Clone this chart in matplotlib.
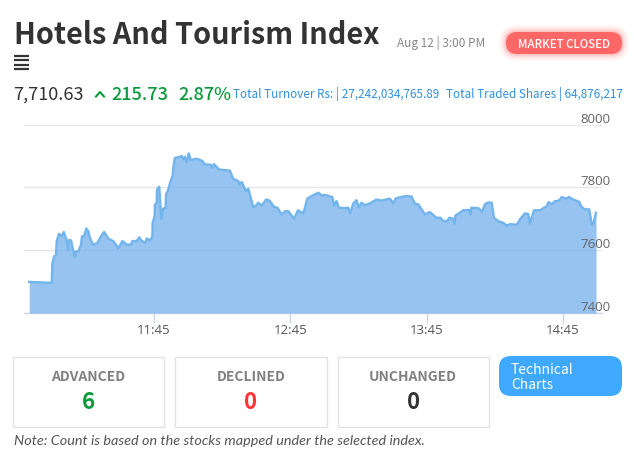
import matplotlib
matplotlib.use("Agg")
import matplotlib.pyplot as plt
from matplotlib.patches import FancyBboxPatch, Rectangle

minutes = [-54.9,-45,-44.7,-43.9,-43.1,-42.8,-41.8,-40.7,-39.7,-38.4,-37.8,-37.5,-36.5,-35.8,-34.8,-34.3,-33.3,-32.1,-31.7,-30.8,
 -29.8,-28.9,-28.2,-26.8,-24.9,-23,-21.9,-20.1,-17.9,-15.7,-13.9,-12,-10.1,-9.5,-7.6,-6.5,-5.3,-3.8,-3.2,-1.6,
 -0.7,-0.6,0.3,0.4,1.2,1.3,2.3,3.2,4.1,5.1,5.3,6.3,7.3,8.2,8.5,9.2,11.1,12.2,12.9,13.6,
 14.4,15.3,16.1,18.8,21.3,22.4,24.9,25.5,26.4,28.6,30.8,33.4,34.9,37.1,37.6,38.6,40.5,41.5,43.7,44.6,
 45.9,47.4,49.3,50.8,52.8,54.3,56.2,57.7,59.1,61.6,63.4,65.7,66.4,67.4,69.8,72.3,73.7,75.9,78.4,79.3,
 80.3,81.4,84,85.5,86.3,87.7,89.1,90.2,91.3,92.8,95,97.9,100.1,102,103.8,105.3,106.4,108.2,110.4,113.3,
 114.8,116.3,119.2,121.4,124.3,126.1,127.3,129,129.9,131.4,132.3,132.6,136.1,138.6,139.3,139.6,142.7,144.4,145.6,147.1,
 148.6,149.6,151.5,153.7,155.2,156.6,159.6,161,163.2,164.7,165.4,167.2,169.8,172.8,173.6,175,176.4,178.3,179.4,181.3,
 182.7,184.5,187.1,188.2,189.6,191.5,192.6,193.3,194.5]
index_values = [7499,7496,7559,7581,7584,7629,7652,7644,7658,7631,7602,7632,7631,7607,7578,7596,7595,7618,7644,7644,
 7669,7660,7639,7617,7623,7648,7658,7636,7629,7606,7629,7618,7618,7629,7629,7641,7629,7623,7637,7631,
 7644,7687,7708,7745,7751,7793,7802,7700,7733,7733,7777,7793,7820,7836,7862,7894,7896,7900,7889,7897,
 7880,7908,7887,7891,7884,7873,7872,7862,7874,7857,7855,7853,7827,7820,7809,7817,7788,7795,7737,7740,
 7751,7742,7761,7758,7738,7735,7714,7724,7724,7700,7727,7717,7735,7764,7774,7783,7775,7775,7769,7742,
 7756,7735,7734,7735,7717,7749,7759,7736,7751,7743,7749,7761,7758,7761,7764,7749,7765,7768,7772,7771,
 7748,7746,7714,7721,7703,7703,7693,7692,7703,7701,7685,7710,7727,7728,7714,7735,7734,7723,7746,7752,
 7751,7703,7692,7687,7678,7683,7681,7698,7717,7715,7685,7727,7727,7740,7753,7746,7756,7758,7769,7764,
 7769,7761,7754,7737,7730,7730,7682,7685,7719]
x_ticks = [0, 60, 120, 180]
x_labels = ["11:45", "12:45", "13:45", "14:45"]
y_ticks = [7400, 7600, 7800, 8000]
counts = [("ADVANCED", "6", "#0a9a3c"), ("DECLINED", "0", "#ff3333"), ("UNCHANGED", "0", "#333333")]

W, H = 634, 472
UI = ["Noto Sans CJK JP", "DejaVu Sans"]
fig = plt.figure(figsize=(W/100, H/100), dpi=100, facecolor="white")

ov = fig.add_axes([0, 0, 1, 1])
ov.set_xlim(0, W); ov.set_ylim(H, 0); ov.axis("off")

x0, x1, ytop, ybot = 24, 602, 124.5, 313
ax = fig.add_axes([x0/W, 1-ybot/H, (x1-x0)/W, (ybot-ytop)/H])
ax.patch.set_alpha(0)
ax.set_xlim((x0-154)*0.44, (x1-154)*0.44)
ax.set_ylim(7400, 8000)
ax.fill_between(minutes, 7400, index_values, color="#7cb5ec", alpha=0.8, lw=0, zorder=3)
ax.plot(minutes, index_values, color="#72b4ec", lw=1.7, zorder=4, solid_joinstyle="round")
for s in ["top", "left", "right"]:
    ax.spines[s].set_visible(False)
ax.spines["bottom"].set_color("#ccd6eb"); ax.spines["bottom"].set_linewidth(1)
ax.grid(axis="y", color="#e6e6e6", lw=1, zorder=1)
ax.set_axisbelow(True)
ax.set_xticks(x_ticks, x_labels, fontsize=9.5, color="#555555", family="Open Sans")
ax.set_yticks(y_ticks)
ax.tick_params(axis="x", length=7, width=1, color="#ccd6eb", pad=0.8)
ax.tick_params(axis="y", length=0, labelleft=False)
for v in y_ticks:
    ax.annotate(str(v), (1, v), xycoords=("axes fraction", "data"), xytext=(6.2, -0.8),
                textcoords="offset points", ha="right", va="bottom", fontsize=9.5,
                color="#666666", family="Open Sans", annotation_clip=False)

ov.text(14, 44.5, "Hotels And Tourism Index", fontsize=20.8, fontweight="bold", color="#333333", family=UI, va="baseline")
ov.text(397, 47, "Aug 12 | 3:00 PM", fontsize=8.5, color="#888888", family=UI, va="baseline")
for g, a in [(7, .06), (5, .08), (3, .12), (1.5, .18)]:
    ov.add_patch(FancyBboxPatch((506-g, 32-g), 116+2*g, 22+2*g,
                 boxstyle=f"round,pad=0,rounding_size={11+g}", fc="#ff6666", ec="none", alpha=a))
ov.add_patch(FancyBboxPatch((506, 32), 116, 22, boxstyle="round,pad=0,rounding_size=11", fc="#ff6666", ec="none"))
ov.text(564, 43, "MARKET CLOSED", fontsize=8.2, color="white", family=UI, ha="center", va="center_baseline", fontweight="medium")
for y in [55.5, 60, 64.5, 69]:
    ov.plot([14, 29], [y, y], color="#333333", lw=1.6, solid_capstyle="butt")

ov.text(13.5, 100, "7,710.63", fontsize=13.1, color="#333333", family=UI, va="baseline")
ov.plot([96, 100, 104], [96.5, 92, 96.5], color="#0a9a3c", lw=1.5)
ov.text(111, 100, "215.73", fontsize=13.1, color="#0a9a3c", family=UI, va="baseline", fontweight="medium")
ov.text(178, 100, "2.87%", fontsize=13, color="#0a9a3c", family=UI, va="baseline", fontweight="medium")
ov.text(233, 98, "Total Turnover Rs: | 27,242,034,765.89", fontsize=8.4, color="#2f8fe0", family=UI, va="baseline")
ov.text(446, 98, "Total Traded Shares | 64,876,217", fontsize=8.4, color="#2f8fe0", family=UI, va="baseline")

boxes = [(13, 150.5), (175, 151.5), (338, 150.5)]
for (bx, bw), (name, val, col) in zip(boxes, counts):
    ov.add_patch(Rectangle((bx, 356.5), bw, 70.5, fc="white", ec="#e3e3e3", lw=1))
    ov.text(bx+bw/2, 381, name, fontsize=10, fontweight="bold", color="#808080", family=UI, ha="center", va="baseline")
    ov.text(bx+bw/2, 409, val, fontsize=16, fontweight="bold", color=col, family=UI, ha="center", va="baseline")
ov.add_patch(FancyBboxPatch((499, 356), 123, 40, boxstyle="round,pad=0,rounding_size=12", fc="#3fa9ff", ec="none"))
ov.text(511, 374, "Technical", fontsize=10, color="white", family=UI, va="baseline")
ov.text(511, 389, "Charts", fontsize=10, color="white", family=UI, va="baseline")
ov.text(14, 445, "Note: Count is based on the stocks mapped under the selected index.", fontsize=10.4,
        style="italic", color="#555555", family="Lato", va="baseline")

fig.savefig("out.png", dpi=100)
